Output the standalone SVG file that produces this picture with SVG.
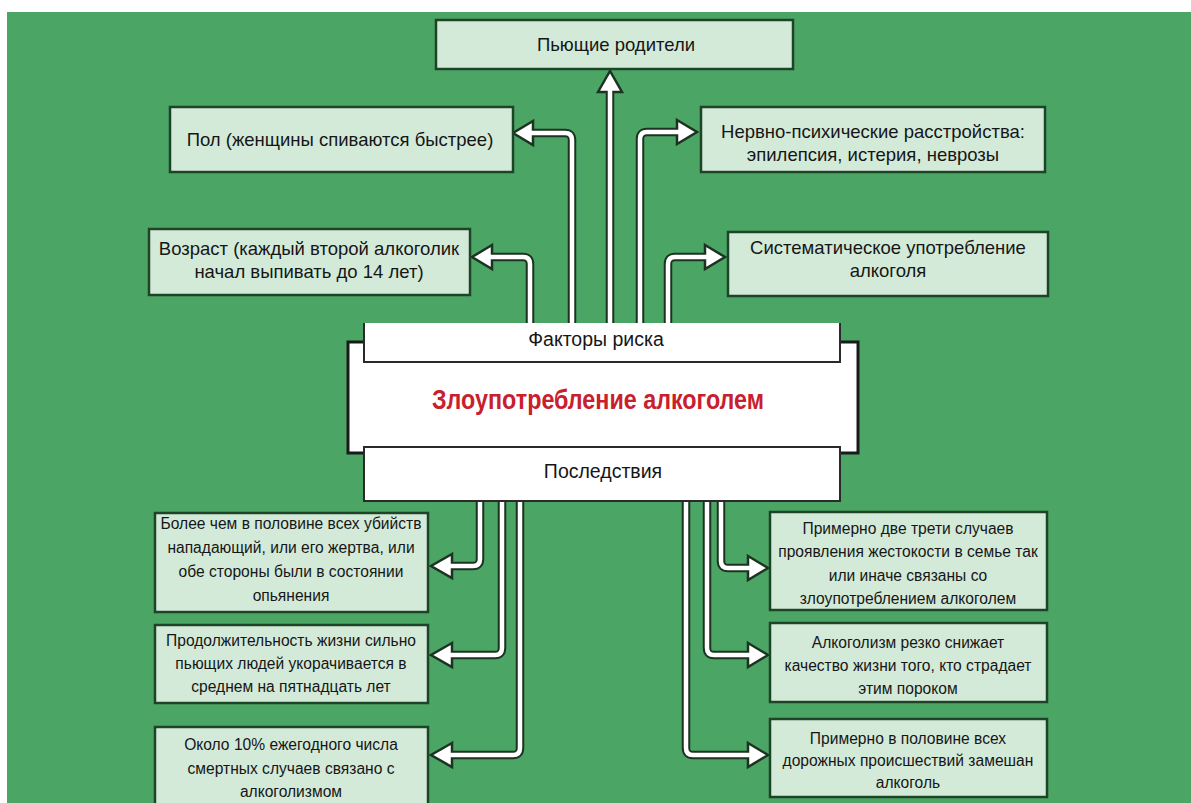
<svg xmlns="http://www.w3.org/2000/svg" width="1191" height="803" viewBox="0 0 1191 803">
<style>
.box{fill:#d3ead9;stroke:#1d4426;stroke-width:2.5}
.t{font-family:"Liberation Sans",Arial,sans-serif;fill:#161616;text-anchor:middle}
.tl{font-size:18.5px}
.ts{font-size:15.6px}
.co{fill:none;stroke:#1d3322;stroke-width:8.5;stroke-linejoin:round}
.ci{fill:none;stroke:#ffffff;stroke-width:4.5;stroke-linejoin:round}
.ah{fill:#ffffff;stroke:#1d3322;stroke-width:2.5;stroke-linejoin:miter}
.band{fill:#ffffff;stroke:#2a2a2a;stroke-width:2}
</style>
<rect x="0" y="0" width="1191" height="803" fill="#ffffff"/>
<rect x="7" y="12" width="1184" height="791" fill="#4ba565"/>

<g id="connectors">
  <path class="co" d="M572,330 V140 Q572,133 565,133 H531"/>
  <path class="co" d="M530,330 V264 Q530,257 523,257 H490"/>
  <path class="co" d="M610,330 V90"/>
  <path class="co" d="M640,330 V139 Q640,132 647,132 H679"/>
  <path class="co" d="M668,330 V264 Q668,257 675,257 H707"/>
  <path class="co" d="M480,495 V559 Q480,566 473,566 H450"/>
  <path class="co" d="M502,495 V648 Q502,655 495,655 H450"/>
  <path class="co" d="M520,495 V748 Q520,755 513,755 H450"/>
  <path class="co" d="M721,495 V561 Q721,568 728,568 H750"/>
  <path class="co" d="M707,495 V648 Q707,655 714,655 H750"/>
  <path class="co" d="M686,495 V748 Q686,755 693,755 H750"/>

  <polygon class="ah" points="533,121 513,133 533,145"/>
  <polygon class="ah" points="492,245 472,257 492,269"/>
  <polygon class="ah" points="598,92 610,71 622,92"/>
  <polygon class="ah" points="677,120 697,132 677,144"/>
  <polygon class="ah" points="705,245 725,257 705,269"/>
  <polygon class="ah" points="452,554 431,566 452,578"/>
  <polygon class="ah" points="452,643 431,655 452,667"/>
  <polygon class="ah" points="452,743 431,755 452,767"/>
  <polygon class="ah" points="748,556 768,568 748,580"/>
  <polygon class="ah" points="748,643 768,655 748,667"/>
  <polygon class="ah" points="748,743 768,755 748,767"/>

  <path class="ci" d="M572,330 V140 Q572,133 565,133 H531"/>
  <path class="ci" d="M530,330 V264 Q530,257 523,257 H490"/>
  <path class="ci" d="M610,330 V90"/>
  <path class="ci" d="M640,330 V139 Q640,132 647,132 H679"/>
  <path class="ci" d="M668,330 V264 Q668,257 675,257 H707"/>
  <path class="ci" d="M480,495 V559 Q480,566 473,566 H450"/>
  <path class="ci" d="M502,495 V648 Q502,655 495,655 H450"/>
  <path class="ci" d="M520,495 V748 Q520,755 513,755 H450"/>
  <path class="ci" d="M721,495 V561 Q721,568 728,568 H750"/>
  <path class="ci" d="M707,495 V648 Q707,655 714,655 H750"/>
  <path class="ci" d="M686,495 V748 Q686,755 693,755 H750"/>
</g>

<g id="node-center">
  <rect x="348" y="342" width="510" height="111" fill="#ffffff" stroke="#1a1a1a" stroke-width="3"/>
  <path d="M364,323 H840 V362 H364 Z" fill="#ffffff"/>
  <path d="M364,323 V362 H840 V323" fill="none" stroke="#2a2a2a" stroke-width="2"/>
  <rect class="band" x="364" y="447" width="476" height="54"/>
  <text class="t" x="596" y="346" font-size="19.5">Факторы риска</text>
  <text x="598" y="409" font-family="'Liberation Sans',Arial,sans-serif" font-weight="bold" font-size="27" fill="#c8202c" text-anchor="middle" textLength="332" lengthAdjust="spacingAndGlyphs">Злоупотребление алкоголем</text>
  <text class="t" x="603" y="478" font-size="19.5">Последствия</text>
</g>

<g id="node-parents">
  <rect class="box" x="436" y="20" width="357" height="49"/>
  <text class="t tl" x="616" y="51">Пьющие родители</text>
</g>
<g id="node-gender">
  <rect class="box" x="170" y="107" width="343" height="65"/>
  <text class="t tl" x="340" y="146">Пол (женщины спиваются быстрее)</text>
</g>
<g id="node-age">
  <rect class="box" x="149" y="229" width="321" height="66"/>
  <text class="t tl" x="309" y="255">Возраст (каждый второй алкоголик</text>
  <text class="t tl" x="309" y="278">начал выпивать до 14 лет)</text>
</g>
<g id="node-neuro">
  <rect class="box" x="701" y="107" width="344" height="65"/>
  <text class="t tl" x="873" y="138">Нервно-психические расстройства:</text>
  <text class="t tl" x="873" y="161">эпилепсия, истерия, неврозы</text>
</g>
<g id="node-systematic">
  <rect class="box" x="728" y="232" width="320" height="64"/>
  <text class="t tl" x="888" y="254">Систематическое употребление</text>
  <text class="t tl" x="888" y="277">алкоголя</text>
</g>

<g id="node-murders">
  <rect class="box" x="155" y="513" width="273" height="99"/>
  <text class="t ts" x="291" y="529">Более чем в половине всех убийств</text>
  <text class="t ts" x="291" y="553">нападающий, или его жертва, или</text>
  <text class="t ts" x="291" y="577">обе стороны были в состоянии</text>
  <text class="t ts" x="291" y="601">опьянения</text>
</g>
<g id="node-life">
  <rect class="box" x="155" y="625" width="273" height="78"/>
  <text class="t ts" x="291" y="646">Продолжительность жизни сильно</text>
  <text class="t ts" x="291" y="669">пьющих людей укорачивается в</text>
  <text class="t ts" x="291" y="692">среднем на пятнадцать лет</text>
</g>
<g id="node-deaths">
  <rect class="box" x="155" y="727" width="273" height="90"/>
  <text class="t ts" x="291" y="750">Около 10% ежегодного числа</text>
  <text class="t ts" x="291" y="774">смертных случаев связано с</text>
  <text class="t ts" x="291" y="797">алкоголизмом</text>
</g>
<g id="node-family">
  <rect class="box" x="770" y="512" width="277" height="98"/>
  <text class="t ts" x="908" y="534">Примерно две трети случаев</text>
  <text class="t ts" x="908" y="557">проявления жестокости в семье так</text>
  <text class="t ts" x="908" y="581">или иначе связаны со</text>
  <text class="t ts" x="908" y="604">злоупотреблением алкоголем</text>
</g>
<g id="node-quality">
  <rect class="box" x="770" y="623" width="277" height="79"/>
  <text class="t ts" x="908" y="648">Алкоголизм резко снижает</text>
  <text class="t ts" x="908" y="671">качество жизни того, кто страдает</text>
  <text class="t ts" x="908" y="694">этим пороком</text>
</g>
<g id="node-road">
  <rect class="box" x="770" y="719" width="277" height="78"/>
  <text class="t ts" x="908" y="744">Примерно в половине всех</text>
  <text class="t ts" x="908" y="766">дорожных происшествий замешан</text>
  <text class="t ts" x="908" y="788">алкоголь</text>
</g>
</svg>
